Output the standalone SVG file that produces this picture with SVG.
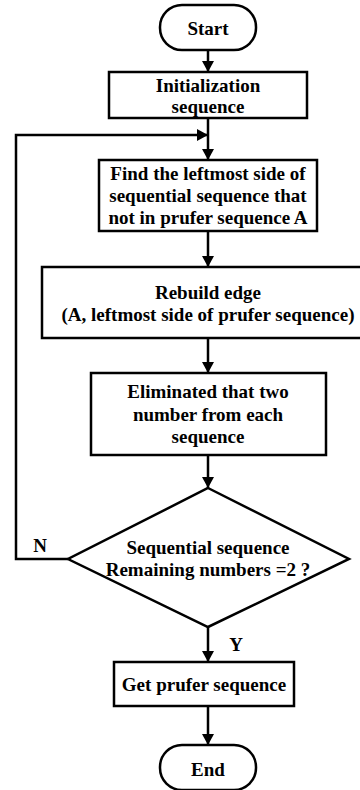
<svg xmlns="http://www.w3.org/2000/svg" width="360" height="790" viewBox="0 0 360 790">
<style>
.s{fill:#fff;stroke:#000;stroke-width:2.5}
.t{font-family:"Liberation Serif","Times New Roman",serif;font-weight:bold;font-size:19px;fill:#000;text-anchor:middle}
.c{fill:none;stroke:#000;stroke-width:2.5}
</style>
<defs>
<marker id="a" markerWidth="11" markerHeight="12" refX="11" refY="6" orient="auto" markerUnits="userSpaceOnUse">
<path d="M0,0 L11,6 L0,12 Z" fill="#000"/>
</marker>
</defs>
<rect width="360" height="790" fill="#fff"/>
<g id="connectors">
<line class="c" x1="208" y1="50" x2="208" y2="72" marker-end="url(#a)"/>
<line class="c" x1="208" y1="118" x2="208" y2="160" marker-end="url(#a)"/>
<polyline class="c" points="68,559 16,559 16,135 208,135" marker-end="url(#a)"/>
<line class="c" x1="208" y1="231" x2="208" y2="267" marker-end="url(#a)"/>
<line class="c" x1="208" y1="338" x2="208" y2="373" marker-end="url(#a)"/>
<line class="c" x1="208" y1="455" x2="208" y2="488" marker-end="url(#a)"/>
<line class="c" x1="208" y1="627" x2="208" y2="662" marker-end="url(#a)"/>
<line class="c" x1="208" y1="706" x2="208" y2="745" marker-end="url(#a)"/>
<text class="t" x="40" y="552">N</text>
<text class="t" x="236" y="651">Y</text>
</g>
<g id="start">
<rect class="s" x="160" y="5" width="96" height="45" rx="22"/>
<text class="t" x="208" y="35">Start</text>
</g>
<g id="init">
<rect class="s" x="109" y="72" width="198" height="46"/>
<text class="t" x="208" y="92">Initialization</text>
<text class="t" x="208" y="113">sequence</text>
</g>
<g id="find">
<rect class="s" x="99" y="160" width="218" height="71"/>
<text class="t" x="208" y="180">Find the leftmost side of</text>
<text class="t" x="208" y="202">sequential sequence that</text>
<text class="t" x="208" y="224">not in prufer sequence A</text>
</g>
<g id="rebuild">
<rect class="s" x="42" y="267" width="322" height="71"/>
<text class="t" x="208" y="299">Rebuild edge</text>
<text class="t" x="208" y="321">(A, leftmost side of prufer sequence)</text>
</g>
<g id="eliminate">
<rect class="s" x="91" y="373" width="235" height="82"/>
<text class="t" x="208" y="398">Eliminated that two</text>
<text class="t" x="208" y="421">number from each</text>
<text class="t" x="208" y="443">sequence</text>
</g>
<g id="decision">
<polygon class="s" points="208,488 349,559 208,627 68,559"/>
<text class="t" x="208" y="554">Sequential sequence</text>
<text class="t" x="208" y="576">Remaining numbers =2 ?</text>
</g>
<g id="get">
<rect class="s" x="114" y="662" width="180" height="44"/>
<text class="t" x="204" y="691">Get prufer sequence</text>
</g>
<g id="end">
<rect class="s" x="160" y="745" width="96" height="45" rx="22"/>
<text class="t" x="208" y="776">End</text>
</g>
</svg>
